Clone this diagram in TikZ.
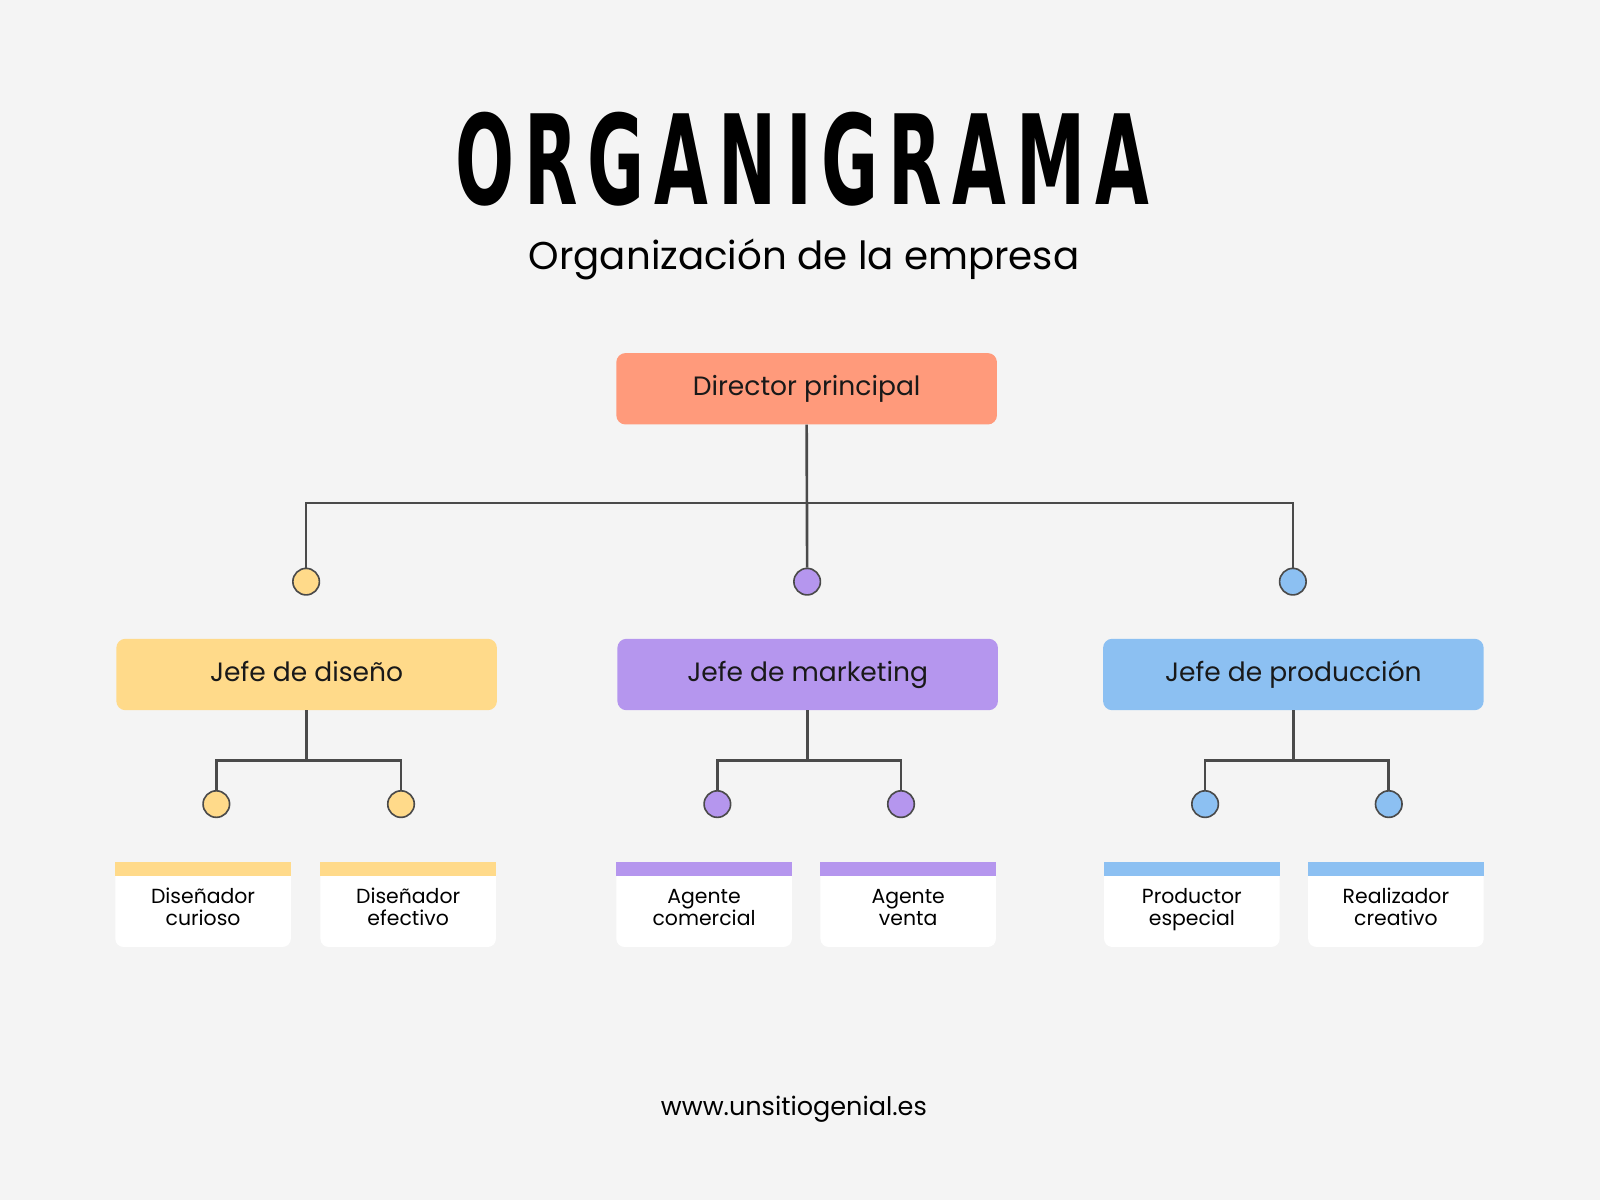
\documentclass[tikz,border=0pt]{standalone}
\usepackage{fontspec}
\setmainfont{Poppins}
\newfontfamily\titlefont[LetterSpace=8,FakeStretch=0.62]{DejaVu Sans Condensed Bold}
\usetikzlibrary{positioning,calc}
\definecolor{bg}{HTML}{F4F4F4}
\definecolor{lnc}{HTML}{4A4A4A}
\definecolor{cdir}{HTML}{FF9A7B}
\definecolor{cdis}{HTML}{FFDA8A}
\definecolor{cmkt}{HTML}{B596EE}
\definecolor{cpro}{HTML}{8CC0F2}
\tikzset{
  boss/.style={rounded corners=9, minimum width=373, minimum height=70, font=\fontsize{26}{30}\selectfont, text=black!90, text height=19, text depth=6},
  dot/.style={circle, draw=lnc, line width=1.6, minimum size=26, inner sep=0},
  staff/.style={fill=white, rounded corners=8, minimum width=172, minimum height=83, align=center, font=\fontsize{20}{21}\selectfont, inner sep=0, text depth=0},
  conn/.style={draw=lnc, line width=2.6},
}
\begin{document}
\begin{tikzpicture}[x=1pt,y=1pt,yscale=-1]
\fill[bg] (0,0) rectangle (1568,1176);
\useasboundingbox (0,0) rectangle (1568,1176);

% Titles
\node (title) at (786,156) {\titlefont\fontsize{122}{124}\selectfont ORGANIGRAMA};
\node (sub) at (788,254) {\fontsize{38}{42}\selectfont Organización de la empresa};
\node (web) at (778,1087) {\fontsize{25}{28}\selectfont www.unsitiogenial.es};

% Director
\node[boss, fill=cdir] (dir) at (790.5,381) {Director principal};
\coordinate (bar) at (791,493);

% Jefes
\node[boss, fill=cdis] (jdis) at (300.5,661) {Jefe de diseño};
\node[boss, fill=cmkt] (jmkt) at (791.5,661) {Jefe de marketing};
\node[boss, fill=cpro] (jpro) at (1267.5,661) {Jefe de producción};
\node[dot, fill=cdis] (ddis) at (300,570) {};
\node[dot, fill=cmkt] (dmkt) at (791,570) {};
\node[dot, fill=cpro] (dpro) at (1267,570) {};

\draw[conn] (dir.south) -- (dmkt.north);
\draw[conn] (ddis.north) -- (ddis.north |- bar) -- (dpro.north |- bar) -- (dpro.north);

% Equipos
\foreach \j/\c/\xa/\xb/\ta/\tb in {
  dis/cdis/212/393/{Diseñador\\curioso}/{Diseñador\\efectivo},
  mkt/cmkt/703/883/{Agente\\comercial}/{Agente\\venta},
  pro/cpro/1181/1361/{Productor\\especial}/{Realizador\\creativo}}{
  \node[dot, fill=\c] (a\j) at (\xa,788) {};
  \node[dot, fill=\c] (b\j) at (\xb,788) {};
  \coordinate (m\j) at ($(j\j.south)+(0,49)$);
  \draw[conn] (j\j.south) -- (m\j);
  \draw[conn] (a\j.north) -- (a\j.north |- m\j) -- (b\j.north |- m\j) -- (b\j.north);
  \node[staff] (sa\j) at (\xa-13,886.5) {\\[-2pt]\ta};
  \node[staff] (sb\j) at (\xb+7,886.5) {\\[-2pt]\tb};
  \fill[\c] (sa\j.north west) rectangle ([yshift=14]sa\j.north east);
  \fill[\c] (sb\j.north west) rectangle ([yshift=14]sb\j.north east);
}
\end{tikzpicture}
\end{document}
